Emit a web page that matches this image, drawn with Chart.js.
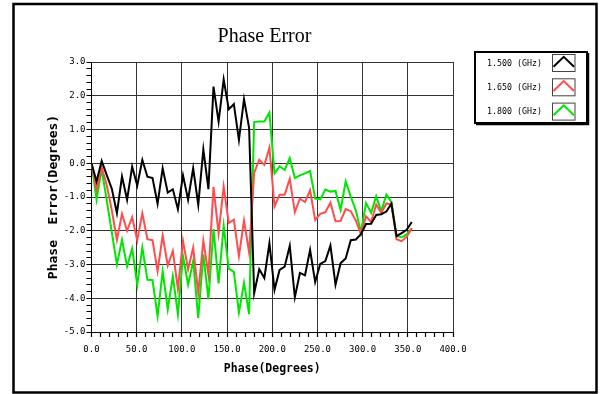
<!DOCTYPE html>
<html><head><meta charset="utf-8">
<script src="https://cdn.jsdelivr.net/npm/chart.js@4.4.1/dist/chart.umd.min.js"></script>
<style>html,body{margin:0;padding:0;background:#fff;overflow:hidden}#wrap{width:603px;height:394px;position:relative}</style>
</head><body><div id="wrap"><canvas id="c" width="603" height="394"></canvas></div>
<script>
// ---------- data ----------
const phaseDeg = [0, 5.625, 11.25, 16.875, 22.5, 28.125, 33.75, 39.375, 45, 50.625, 56.25, 61.875, 67.5, 73.125, 78.75, 84.375, 90, 95.625, 101.25, 106.875, 112.5, 118.125, 123.75, 129.375, 135, 140.625, 146.25, 151.875, 157.5, 163.125, 168.75, 174.375, 180, 185.625, 191.25, 196.875, 202.5, 208.125, 213.75, 219.375, 225, 230.625, 236.25, 241.875, 247.5, 253.125, 258.75, 264.375, 270, 275.625, 281.25, 286.875, 292.5, 298.125, 303.75, 309.375, 315, 320.625, 326.25, 331.875, 337.5, 343.125, 348.75, 354.375];
const err1500 = [0.0, -0.54, 0.07, -0.35, -0.76, -1.48, -0.39, -1.08, -0.1, -0.66, 0.1, -0.4, -0.44, -1.2, -0.15, -0.87, -0.77, -1.36, -0.36, -1.08, -0.15, -1.23, 0.41, -0.77, 2.27, 1.23, 2.48, 1.6, 1.75, 0.69, 1.9, 1.05, -3.85, -3.14, -3.4, -2.37, -3.75, -3.16, -3.06, -2.45, -3.97, -3.25, -3.32, -2.57, -3.52, -2.98, -2.9, -2.44, -3.6, -2.96, -2.82, -2.28, -2.26, -2.1, -1.8, -1.79, -1.53, -1.51, -1.43, -1.2, -2.16, -2.07, -1.97, -1.74];
const err1650 = [0.0, -0.8, -0.12, -0.65, -1.4, -2.27, -1.5, -2.0, -1.6, -2.28, -1.48, -2.25, -2.28, -3.2, -2.14, -3.03, -2.6, -3.72, -2.3, -3.15, -2.5, -3.85, -2.3, -3.3, -0.7, -2.08, -0.69, -1.77, -1.67, -2.75, -1.7, -2.64, -0.28, 0.1, -0.05, 0.46, -1.28, -0.93, -0.93, -0.46, -1.45, -1.05, -1.15, -0.8, -1.68, -1.5, -1.45, -1.17, -1.72, -1.71, -1.36, -1.42, -1.7, -2.1, -1.57, -1.74, -1.22, -1.47, -1.19, -1.22, -2.25, -2.31, -2.18, -1.93];
const err1800 = [0.0, -1.08, -0.18, -1.1, -2.05, -3.0, -2.27, -3.06, -2.53, -3.6, -2.5, -3.45, -3.46, -4.53, -3.2, -4.33, -3.35, -4.48, -2.75, -3.6, -2.9, -4.58, -2.7, -4.03, -1.95, -3.56, -1.86, -3.12, -3.22, -4.42, -3.54, -4.47, 1.22, 1.24, 1.24, 1.5, -0.3, -0.09, -0.2, 0.15, -0.44, -0.36, -0.3, -0.23, -1.05, -1.07, -0.78, -0.84, -0.82, -1.38, -0.54, -0.99, -1.4, -2.05, -1.18, -1.47, -0.98, -1.42, -0.93, -1.15, -2.15, -2.2, -2.11, -1.92];
const seriesLabels = ['1.500 (GHz)', '1.650 (GHz)', '1.800 (GHz)'];
const xMajorTicks = [0, 50, 100, 150, 200, 250, 300, 350, 400];
const yMajorTicks = [-5, -4, -3, -2, -1, 0, 1, 2, 3];

// ---------- styling ----------
const colors = ['#000000', '#ff4d4d', '#00e600'];
const tickFont = {family: '"DejaVu Sans Mono"', size: 9};
const legendFont = '8.3px "DejaVu Sans Mono"';

function pts(arr) { return phaseDeg.map((x, i) => ({x: x, y: arr[i]})); }
const isMajor = (v, list) => list.some(m => Math.abs(m - v) < 1e-6);
const align1 = p => Math.round(p - 0.5) + 0.5;

const frameLegend = {
  id: 'frameLegend',
  afterDraw(chart) {
    const ctx = chart.ctx;
    ctx.save();
    // tick marks (major + minor) from the scales' own tick values
    const sx = chart.scales.x, sy = chart.scales.y;
    const ca = chart.chartArea;
    ctx.strokeStyle = '#000'; ctx.lineWidth = 1.2;
    ctx.beginPath();
    for (let v = sx.min; v <= sx.max + 1e-6; v += 10) {
      const px = align1(sx.getPixelForValue(v)); ctx.moveTo(px, ca.bottom); ctx.lineTo(px, ca.bottom + 5);
    }
    for (let k = 0; k <= 40; k++) {
      const v = sy.min + k * 0.2;
      const py = align1(sy.getPixelForValue(v)); ctx.moveTo(ca.left - 5, py); ctx.lineTo(ca.left, py);
    }
    ctx.stroke();
    // outer frame
    ctx.strokeStyle = '#000'; ctx.lineWidth = 2.5;
    ctx.strokeRect(13.5, 4, 583, 388.5);
    // legend box
    const lx = 475, ly = 52, lw = 112, lh = 71;
    ctx.lineWidth = 2;
    ctx.strokeRect(lx, ly, lw, lh);
    ctx.lineWidth = 1.5;
    ctx.beginPath(); ctx.moveTo(lx + lw + 1.5, ly + 1); ctx.lineTo(lx + lw + 1.5, ly + lh + 1.5); ctx.lineTo(lx + 1, ly + lh + 1.5); ctx.stroke();
    chart.data.datasets.forEach((ds, i) => {
      const by = 54 + i * 24.3;
      ctx.fillStyle = '#000';
      ctx.font = legendFont;
      ctx.textAlign = 'left'; ctx.textBaseline = 'middle';
      ctx.fillText(ds.label, 487, by + 9.5);
      ctx.lineWidth = 1; ctx.strokeStyle = '#444';
      ctx.strokeRect(552.5, by + 0.5, 22.5, 17);
      ctx.strokeStyle = ds.borderColor; ctx.lineWidth = 2;
      ctx.beginPath(); ctx.moveTo(553.5, by + 12.7); ctx.lineTo(563.7, by + 2.8); ctx.lineTo(574, by + 12.7); ctx.stroke();
    });
    ctx.restore();
  }
};

new Chart(document.getElementById('c'), {
  type: 'line',
  data: {
    datasets: [err1500, err1650, err1800].map((arr, i) => ({
      label: seriesLabels[i], data: pts(arr), borderColor: colors[i], backgroundColor: colors[i],
      borderWidth: 2, pointRadius: 0, tension: 0, fill: false
    }))
  },
  options: {
    responsive: false, animation: false, devicePixelRatio: 1,
    layout: {padding: {left: 0, right: 74, top: 0, bottom: 0}},
    plugins: {
      legend: {display: false}, tooltip: {enabled: false},
      title: {display: true, text: 'Phase Error', color: '#000',
        font: {family: '"Liberation Serif"', size: 20, weight: 'normal'}, padding: {top: 25, bottom: 13}}
    },
    scales: {
      x: {
        type: 'linear', min: 0, max: 400,
        ticks: {stepSize: 50, autoSkip: false, maxRotation: 0, color: '#000', font: tickFont, padding: 12,
          callback: v => isMajor(v, xMajorTicks) ? Number(v).toFixed(1) : ''},
        grid: {color: '#333', drawTicks: false, lineWidth: 1},
        border: {color: '#000', width: 1},
        title: {display: true, text: 'Phase(Degrees)', color: '#000', font: {family: '"DejaVu Sans Mono"', size: 11.5, weight: 'bold'}, padding: {top: 0, bottom: 18}},
        afterFit: s => { s.height = 62; }
      },
      y: {
        type: 'linear', min: -5, max: 3,
        ticks: {stepSize: 1, autoSkip: false, color: '#000', font: tickFont, padding: 6,
          callback: v => { const r = Math.round(v); return isMajor(v, yMajorTicks) ? (r === 0 ? '0.0' : r.toFixed(1)) : ''; }},
        grid: {color: '#333', drawTicks: false, lineWidth: 1},
        border: {color: '#000', width: 1},
        title: {display: true, text: 'Phase  Error(Degrees)', color: '#000', font: {family: '"DejaVu Sans Mono"', size: 13, weight: 'bold'}, padding: {top: 46, bottom: 0}},
        afterFit: s => { s.width = 91.5; }
      },
      yPad: {
        type: 'linear', position: 'right', display: true,
        grid: {display: false, drawTicks: false}, ticks: {display: false}, border: {display: false},
        afterFit: s => { s.width = 603 - 74 - 453; }
      }
    }
  },
  plugins: [frameLegend]
});
</script></body></html>
